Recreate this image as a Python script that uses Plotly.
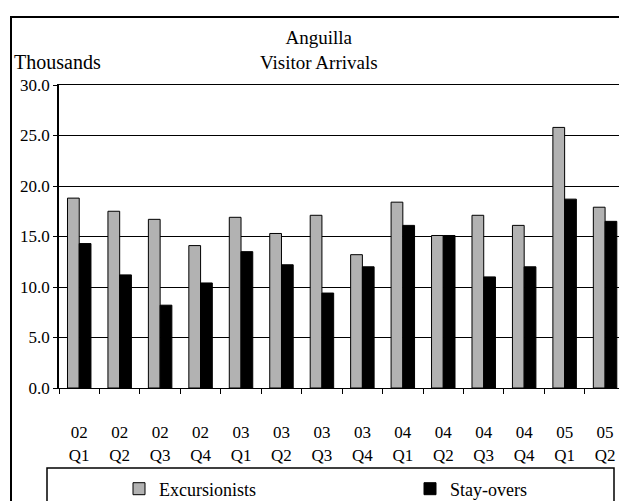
import plotly.graph_objects as go

quarters = ["02<br>Q1", "02<br>Q2", "02<br>Q3", "02<br>Q4",
            "03<br>Q1", "03<br>Q2", "03<br>Q3", "03<br>Q4",
            "04<br>Q1", "04<br>Q2", "04<br>Q3", "04<br>Q4",
            "05<br>Q1", "05<br>Q2"]
excursionists = [18.8, 17.5, 16.7, 14.1, 16.9, 15.3, 17.1, 13.2,
                 18.4, 15.1, 17.1, 16.1, 25.8, 17.9]
stay_overs = [14.3, 11.2, 8.2, 10.4, 13.5, 12.2, 9.4, 12.0,
              16.1, 15.1, 11.0, 12.0, 18.7, 16.5]
y_ticks = [0, 5, 10, 15, 20, 25, 30]

FONT = "Liberation Serif"
W, H = 619, 501
ML, MT, MB = 59, 85, 113
PW = W - ML
PH = H - MT - MB


def px(x):
    return (x - ML) / PW


def py(y):
    return (H - MB - y) / PH


fig = go.Figure()
fig.add_trace(go.Bar(
    name="Excursionists", x=quarters, y=excursionists, legend="legend",
    marker=dict(color="#B2B2B2", line=dict(color="black", width=1)),
))
fig.add_trace(go.Bar(
    name="Stay-overs", x=quarters, y=stay_overs, legend="legend2",
    marker=dict(color="black", line=dict(color="black", width=1)),
))

legend_common = dict(
    orientation="h", xanchor="left", yanchor="middle",
    bgcolor="rgba(0,0,0,0)", borderwidth=0,
    font=dict(family=FONT, size=18, color="black"),
    itemclick=False, itemdoubleclick=False,
)

fig.update_layout(
    width=W, height=H,
    margin=dict(l=ML, r=0, t=MT, b=MB, autoexpand=False),
    paper_bgcolor="white", plot_bgcolor="white",
    barmode="group", bargap=0.42, bargroupgap=0,
    font=dict(family=FONT, color="black", size=16),
    showlegend=True,
    legend=dict(x=px(119), y=py(489), **legend_common),
    legend2=dict(x=px(410), y=py(489), **legend_common),
    xaxis=dict(
        type="category", range=[-0.5, -0.5 + PW / 40.45],
        showgrid=False, showline=True, linecolor="black", linewidth=1,
        mirror=True,
        ticks="outside", tickson="boundaries", ticklen=5,
        tickcolor="black", tickwidth=1,
        tickfont=dict(family=FONT, size=17, color="black"),
        ticklabelstandoff=29, automargin=False,
    ),
    yaxis=dict(
        range=[0, 30], tickvals=y_ticks, tickformat=".1f",
        showgrid=True, gridcolor="black", gridwidth=1,
        showline=True, linecolor="black", linewidth=1.5,
        zeroline=False,
        ticks="outside", ticklen=4, tickcolor="black", tickwidth=1,
        tickfont=dict(family=FONT, size=17, color="black"),
        automargin=False,
    ),
    shapes=[
        dict(type="rect", xref="paper", yref="paper",
             x0=px(11), x1=px(660), y0=py(560), y1=py(17),
             line=dict(color="black", width=2), fillcolor="rgba(0,0,0,0)",
             layer="below"),
        dict(type="rect", xref="paper", yref="paper",
             x0=px(47), x1=px(614), y0=py(540), y1=py(468),
             line=dict(color="black", width=1.5), fillcolor="rgba(0,0,0,0)",
             layer="below"),
    ],
    annotations=[
        dict(text="Anguilla<br>Visitor Arrivals", xref="paper", yref="paper",
             x=px(319), y=py(50), xanchor="center", yanchor="middle",
             showarrow=False, font=dict(family=FONT, size=19, color="black")),
        dict(text="Thousands", xref="paper", yref="paper",
             x=px(12), y=py(62), xanchor="left", yanchor="middle",
             showarrow=False, font=dict(family=FONT, size=20, color="black")),
    ],
)

fig.write_html("out.html", config={"displayModeBar": False},
               post_script="document.body.style.margin='0';")
